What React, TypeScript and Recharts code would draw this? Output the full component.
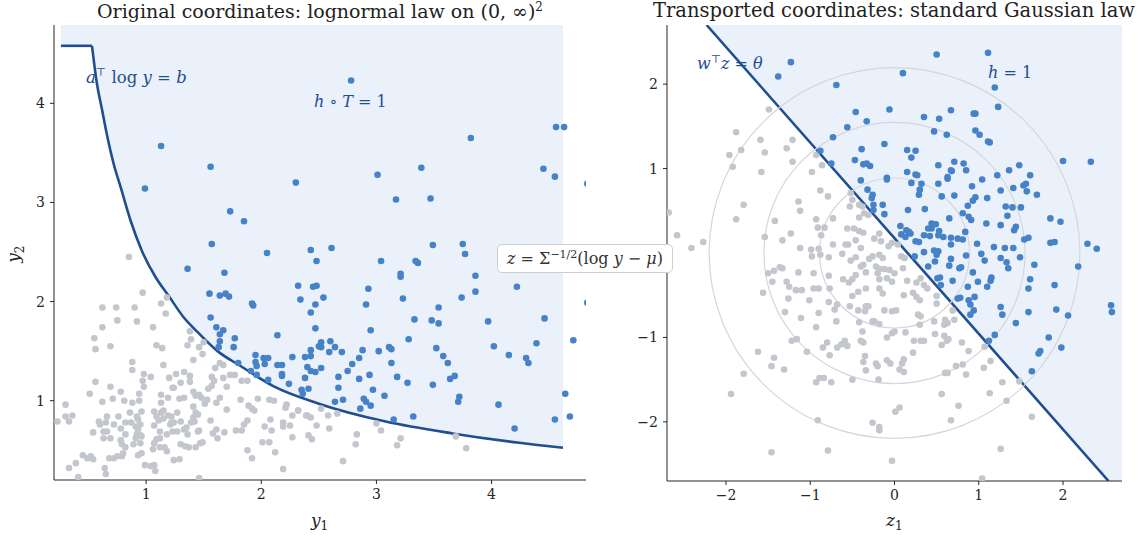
import React from 'react';
import { ComposedChart, Area, Line, Scatter, XAxis, YAxis } from 'recharts';

const INK = '#1f4e91';
const FILL = '#ebf1fa';
const BLUE = '#4682c8';
const GRAY = '#c3c6cd';
const RING = '#d5d6db';
const AXIS = '#262626';
const SERIF = '"DejaVu Serif", serif';

// ---- left panel: original coordinates (y1, y2) ----
const L_XDOM: [number, number] = [0.2, 4.82];
const L_YDOM: [number, number] = [0.2, 4.79];
const L_TICKS = [1, 2, 3, 4];

// boundary a^T log y = b (flat cap, then the curve)
const CURVE_Y1 = [0.26, 0.53, 0.57, 0.62, 0.66, 0.72, 0.78, 0.87, 0.96, 1.08, 1.2, 1.32, 1.44, 1.62, 1.82, 2.1, 2.5, 3.08, 3.66, 4.24, 4.62];
const CURVE_Y2 = [4.58, 4.58, 4.22, 3.92, 3.68, 3.38, 3.15, 2.8, 2.52, 2.25, 2.05, 1.85, 1.7, 1.5, 1.35, 1.15, 0.97, 0.79, 0.67, 0.575, 0.525];

const L_BLUE: [number, number][] = [
  [1.13, 3.57], [1.56, 3.36], [0.99, 3.14], [2.3, 3.2], [1.73, 2.91], [1.85, 2.81], [1.57, 2.58], [2.43, 2.52],
  [2.78, 4.23], [3.82, 3.65], [4.56, 3.76], [4.63, 3.76], [3.01, 3.28], [3.39, 3.35], [4.45, 3.34], [4.55, 3.26],
  [3.17, 3.03], [3.47, 3.04], [2.61, 2.54], [3.49, 2.57], [3.75, 2.58], [4.83, 3.19],
  [2.05, 2.49], [2.48, 2.41], [1.36, 2.33], [1.68, 2.29], [2.32, 2.16], [2.45, 2.15], [2.48, 2.16], [1.55, 2.08],
  [1.64, 2.06], [1.69, 2.08], [1.72, 2.05], [2.34, 2.02], [1.92, 1.98], [1.93, 1.96], [2.47, 1.97], [2.43, 1.89],
  [1.56, 1.84], [1.61, 1.74], [1.67, 1.71], [1.64, 1.67], [2.47, 1.73], [2.14, 1.66], [1.77, 1.63], [1.64, 1.6],
  [1.63, 1.54], [1.76, 1.54], [2.43, 1.51], [2.5, 1.55], [1.95, 1.46], [2.02, 1.43], [2.06, 1.43], [2.27, 1.44],
  [2.38, 1.44], [2.43, 1.45], [1.8, 1.38], [1.95, 1.39], [1.96, 1.35], [2.03, 1.37], [2.14, 1.36], [2.18, 1.36],
  [2.4, 1.34], [2.43, 1.3], [2.47, 1.29], [1.91, 1.3], [2.18, 1.27], [2.18, 1.25], [1.96, 1.26], [2.38, 1.23],
  [2.06, 1.21], [2.24, 1.17], [2.41, 1.12], [2.35, 1.11], [2.36, 1.07],
  [3.77, 2.48], [3.04, 2.41], [3.34, 2.41], [3.36, 2.39], [3.21, 2.28], [3.21, 2.25], [3.86, 2.26], [2.54, 2.04],
  [2.93, 2.13], [4.22, 2.15], [3.74, 2.04], [3.86, 2.1], [3.23, 2.03], [2.91, 1.97], [3.54, 1.94], [3.33, 1.82],
  [3.48, 1.81], [3.54, 1.78], [3.97, 1.8], [4.46, 1.83], [2.95, 1.71], [3.28, 1.62], [4.71, 1.61], [2.52, 1.59],
  [2.52, 1.54], [2.6, 1.6], [2.64, 1.54], [2.59, 1.49], [2.7, 1.49], [2.88, 1.51], [3.02, 1.5], [3.11, 1.54],
  [3.13, 1.52], [3.52, 1.53], [4.02, 1.55], [4.39, 1.58], [2.85, 1.43], [2.79, 1.37], [2.75, 1.3], [3.13, 1.38],
  [3.58, 1.45], [3.62, 1.38], [4.15, 1.46], [4.3, 1.43], [4.32, 1.38], [2.52, 1.33], [2.67, 1.24], [2.67, 1.13],
  [2.94, 1.26], [2.85, 1.22], [3.18, 1.24], [3.27, 1.18], [3.64, 1.22], [3.68, 1.25], [3.49, 1.16], [2.97, 1.11],
  [3.07, 1.05], [2.64, 0.99], [2.71, 1.01], [2.89, 1.02], [2.91, 0.99], [2.95, 0.95], [2.86, 0.92], [3.72, 1.04],
  [3.71, 0.99], [4.06, 0.96], [4.64, 1.07], [3.15, 0.81], [3.32, 0.84], [4.2, 0.72], [4.55, 0.81], [4.68, 0.84],
  [4.83, 1.99],
];

const L_GRAY: [number, number][] = [
  [0.85, 2.45], [0.97, 2.09], [0.62, 1.94], [0.74, 1.94], [0.9, 1.94], [0.75, 1.81], [0.92, 1.8], [0.62, 1.74],
  [1.13, 1.98], [1.17, 1.88], [1.18, 2.04], [1.06, 1.74], [0.55, 1.63], [0.56, 1.52], [0.69, 1.55], [1.09, 1.56],
  [1.14, 1.53], [1.38, 1.7], [1.39, 1.62], [1.36, 1.56], [1.46, 1.54], [1.5, 1.59], [1.49, 1.47], [1.41, 1.41],
  [0.88, 1.39], [0.88, 1.31], [1.15, 1.36], [0.98, 1.27], [1.04, 1.24], [1.26, 1.27], [1.33, 1.29], [1.38, 1.25],
  [1.6, 1.33], [1.64, 1.38], [1.67, 1.36], [0.97, 1.2], [0.98, 1.14], [0.56, 1.19], [1.2, 1.23], [1.3, 1.18],
  [1.38, 1.19], [1.57, 1.24], [1.59, 1.2], [1.57, 1.15], [1.67, 1.23], [1.73, 1.26], [1.77, 1.26], [1.83, 1.2],
  [1.88, 1.2], [1.7, 1.14], [0.69, 1.14], [0.51, 1.07], [0.78, 1.09], [0.94, 1.07], [0.94, 1.0], [1.13, 1.06],
  [1.13, 0.98], [1.19, 1.03], [1.23, 1.13], [1.24, 1.13], [1.29, 1.02], [1.33, 1.03], [1.41, 1.09], [1.43, 1.05],
  [1.46, 1.06], [1.48, 1.03], [1.53, 1.01], [1.51, 0.97], [1.54, 1.12], [1.61, 0.98], [1.64, 1.03], [1.7, 0.91],
  [1.82, 1.01], [1.89, 0.95], [1.92, 0.92], [1.94, 0.9], [1.97, 1.02], [2.07, 1.01], [2.11, 1.0], [2.22, 0.96],
  [2.21, 0.93], [2.32, 0.9], [2.4, 0.85], [2.48, 0.75], [0.3, 0.96], [0.3, 0.84], [0.33, 0.79], [0.36, 0.85],
  [0.23, 0.79], [0.62, 0.99], [0.71, 1.02], [0.81, 1.0], [0.88, 0.98], [0.86, 0.88], [0.96, 0.89], [0.59, 0.79],
  [0.66, 0.84], [0.65, 0.78], [0.6, 0.76], [0.76, 0.84], [0.72, 0.76], [0.78, 0.72], [0.82, 0.78], [0.87, 0.78],
  [0.91, 0.74], [0.54, 0.68], [0.63, 0.69], [0.66, 0.69], [0.82, 0.66], [0.93, 0.71], [0.92, 0.66], [0.96, 0.64],
  [0.63, 0.62], [0.69, 0.62], [0.78, 0.6], [0.79, 0.56], [0.82, 0.53], [1.07, 0.89], [1.07, 0.75], [1.13, 0.88],
  [1.15, 0.9], [1.19, 0.85], [1.21, 0.76], [1.24, 0.78], [1.27, 0.88], [1.33, 0.71], [1.36, 0.66], [1.42, 0.79],
  [1.45, 0.69], [1.46, 0.7], [1.41, 0.94], [1.43, 0.88], [1.45, 0.86], [1.56, 0.8], [1.58, 0.67], [1.61, 0.71],
  [1.62, 0.62], [1.68, 0.68], [1.78, 0.7], [1.83, 0.7], [1.85, 0.76], [1.88, 0.8], [1.07, 0.57], [1.09, 0.61],
  [1.12, 0.62], [1.12, 0.53], [1.06, 0.51], [1.16, 0.53], [1.18, 0.49], [1.3, 0.56], [1.34, 0.54], [1.37, 0.53],
  [1.43, 0.53], [1.47, 0.57], [1.49, 0.58], [1.24, 0.4], [1.29, 0.41], [0.99, 0.35], [1.04, 0.34], [1.07, 0.35],
  [1.08, 0.29], [0.93, 0.45], [0.96, 0.47], [0.68, 0.42], [0.72, 0.42], [0.75, 0.44], [0.79, 0.44], [0.8, 0.47],
  [0.45, 0.45], [0.49, 0.42], [0.52, 0.44], [0.54, 0.41], [0.39, 0.37], [0.33, 0.32], [0.41, 0.23], [0.64, 0.32],
  [0.65, 0.26], [1.46, 0.22], [1.88, 0.5], [1.92, 0.42], [2.01, 0.58], [2.07, 0.58], [2.12, 0.48], [2.19, 0.31],
  [2.03, 0.74], [2.09, 0.7], [2.08, 0.81], [2.19, 0.78], [2.19, 0.74], [2.25, 0.75], [2.27, 0.63], [2.27, 0.85],
  [2.32, 0.9], [2.39, 0.85], [2.41, 0.65], [2.44, 0.61], [2.43, 0.83], [1.15, 0.82], [1.22, 0.84], [1.09, 0.84],
  [1.11, 0.8], [0.92, 0.84], [0.95, 0.76], [0.93, 0.81], [1.41, 0.83], [1.3, 0.79], [1.35, 0.73], [1.39, 0.78],
  [1.27, 0.69], [1.23, 0.69], [0.95, 0.65], [0.91, 0.62], [0.95, 0.57], [0.89, 0.56], [1.12, 0.69], [1.18, 0.66],
  [1.22, 0.78], [2.52, 0.92], [2.58, 0.85], [2.66, 0.87], [2.59, 0.72], [2.83, 0.66], [2.82, 0.56], [3.0, 0.77],
  [3.04, 0.7], [3.21, 0.62], [3.18, 0.55], [2.71, 0.39], [3.69, 0.64], [3.78, 0.52],
];

// ---- right panel: transported coordinates (z1, z2) ----
const R_DOM: [number, number] = [-2.7, 2.7];
const R_TICKS = [-2, -1, 0, 1, 2];
const RING_RADII = [0.89, 1.55, 2.2];
// w^T z = theta, where it enters and leaves the plot
const LINE_Z1 = [-2.23, 2.54];
const LINE_Z2 = [2.7, -2.7];

const R_BLUE: [number, number][] = [
  [-1.23, 2.26], [-1.38, 2.09], [-0.69, 1.99], [-0.06, 1.7], [-0.46, 1.67], [-0.33, 1.56], [-0.56, 1.49], [-0.73, 1.37],
  [-0.12, 1.29], [-0.39, 1.23], [-0.88, 1.21], [-0.47, 1.1], [-0.37, 1.05], [-0.33, 1.06], [-0.29, 1.03], [-0.75, 1.06],
  [-0.09, 0.89], [-0.09, 0.87], [-0.4, 0.86], [-0.32, 0.75], [-0.26, 0.69], [-0.27, 0.65], [-0.25, 0.57], [-0.14, 0.57],
  [-0.12, 0.46], [-0.25, 0.51],
  [0.5, 2.35], [1.11, 2.37], [0.1, 2.13], [1.19, 1.96], [1.23, 1.73], [0.35, 1.61], [0.53, 1.59], [0.67, 1.69],
  [0.94, 1.65], [0.96, 1.65], [0.47, 1.44], [0.62, 1.4], [0.96, 1.45], [1.01, 1.4], [1.11, 1.32], [1.13, 1.31],
  [0.15, 1.22], [0.25, 1.21], [0.2, 1.13], [2.0, 1.09], [2.33, 1.08], [0.15, 0.96], [0.25, 0.93], [0.27, 0.92],
  [0.52, 1.04], [0.71, 1.08], [0.82, 1.06], [0.67, 0.98], [0.68, 0.97], [0.85, 0.98], [1.36, 0.98], [1.48, 1.04],
  [1.22, 0.92], [1.61, 0.92], [0.63, 0.9], [0.63, 0.88], [1.04, 0.87], [0.2, 0.83], [0.32, 0.82], [0.3, 0.75],
  [0.29, 0.69], [0.52, 0.82], [0.92, 0.79], [1.41, 0.77], [1.53, 0.8], [1.56, 0.82], [1.57, 0.73], [1.69, 0.69],
  [0.56, 0.67], [0.71, 0.68], [0.96, 0.66], [0.93, 0.62], [1.1, 0.65], [1.26, 0.74], [0.87, 0.56], [1.32, 0.55],
  [1.4, 0.54], [1.5, 0.54], [0.16, 0.51], [0.36, 0.52], [0.81, 0.47], [0.88, 0.43], [0.91, 0.39], [0.65, 0.41],
  [1.34, 0.44], [1.44, 0.31], [1.42, 0.27], [1.09, 0.35], [1.26, 0.33], [1.85, 0.41], [1.97, 0.37], [0.07, 0.32],
  [0.14, 0.27], [0.17, 0.25], [0.44, 0.35], [0.49, 0.34], [0.4, 0.29], [0.44, 0.29], [0.53, 0.26], [0.35, 0.21],
  [0.42, 0.2], [0.52, 0.21], [0.58, 0.19], [0.84, 0.25], [0.67, 0.18], [0.75, 0.17], [0.81, 0.16], [0.25, 0.14],
  [0.29, 0.13], [0.08, 0.22], [0.13, 0.19], [0.19, 0.23], [1.54, 0.16], [1.59, 0.18], [1.85, 0.12], [1.9, 0.13],
  [2.29, 0.11], [2.4, 0.05], [0.67, 0.1], [1.18, 0.07], [1.31, 0.06], [1.41, 0.06], [0.98, 0.11], [0.47, 0.03],
  [0.52, 0.02], [0.35, 0.01],
  [0.24, -0.04], [0.5, -0.02], [0.67, -0.07], [0.85, -0.03], [1.03, -0.01], [0.4, -0.16], [0.48, -0.1], [0.65, -0.15],
  [0.77, -0.18], [0.79, -0.17], [0.93, -0.23], [1.07, -0.09], [1.26, -0.06], [1.33, -0.11], [1.35, -0.18], [1.49, -0.05],
  [1.66, -0.14], [2.18, -0.16], [0.51, -0.3], [0.54, -0.29], [0.69, -0.33], [0.87, -0.4], [0.99, -0.34], [1.1, -0.4],
  [1.14, -0.33], [1.15, -0.29], [1.61, -0.31], [1.59, -0.42], [1.9, -0.38], [0.55, -0.38], [0.75, -0.54], [0.78, -0.53],
  [0.88, -0.56], [0.95, -0.52], [0.9, -0.61], [0.94, -0.68], [0.9, -0.73], [1.26, -0.64], [1.28, -0.73], [1.59, -0.7],
  [1.92, -0.67], [2.06, -0.74], [2.57, -0.62], [2.58, -0.7], [1.44, -0.83], [1.19, -0.97], [1.12, -1.04], [1.83, -1.0],
  [1.98, -1.12], [1.71, -1.19], [1.73, -1.16], [1.63, -1.4],
];

const R_GRAY: [number, number][] = [
  [-1.49, 1.7], [-1.88, 1.43], [-1.59, 1.34], [-1.21, 1.34], [-1.82, 1.22], [-1.54, 1.19], [-1.28, 1.24], [-1.96, 1.16],
  [-1.92, 1.02], [-1.21, 1.08], [-1.58, 0.96], [-0.93, 1.16], [-0.86, 1.04], [-0.98, 0.96], [-0.88, 0.74], [-0.79, 0.67],
  [-1.14, 0.61], [-1.12, 0.5], [-1.79, 0.57], [-1.88, 0.4], [-2.68, 0.48], [-2.58, 0.21], [-2.41, 0.06], [-2.27, 0.13],
  [-1.42, 0.38], [-1.54, 0.19], [-1.33, 0.15], [-1.23, 0.23], [-1.12, 0.06], [-0.93, 0.4], [-0.91, 0.3], [-0.87, 0.21],
  [-0.83, 0.3], [-0.73, 0.41], [-0.52, 0.71], [-0.5, 0.63], [-0.53, 0.55], [-0.42, 0.57], [-0.38, 0.55], [-0.42, 0.42],
  [-0.36, 0.47], [-0.31, 0.45], [-0.56, 0.29], [-0.48, 0.29], [-0.42, 0.26], [-0.37, 0.24], [-0.46, 0.15], [-0.55, 0.1],
  [-0.4, 0.06], [-0.24, 0.17], [-0.18, 0.23], [-0.16, 0.14], [-0.07, 0.08], [-0.03, 0.12], [-0.73, 0.1], [-0.58, 0.1],
  [-0.9, 0.05], [-0.99, 0.04], [0.04, 0.1],
  [-0.98, -0.04], [-0.88, -0.02], [-0.78, -0.05], [-0.62, -0.01], [-0.52, -0.09], [-0.46, -0.05], [-0.3, -0.07], [-0.26, -0.04],
  [-0.18, -0.02], [-0.14, -0.06], [-0.4, -0.16], [-0.37, -0.14], [-0.22, -0.16], [-0.18, -0.19], [-0.12, -0.19], [-0.06, -0.2],
  [-1.5, -0.24], [-1.43, -0.21], [-1.36, -0.17], [-1.33, -0.18], [-1.45, -0.34], [-1.14, -0.23], [-0.96, -0.24], [-0.78, -0.27],
  [-1.28, -0.34], [-1.25, -0.4], [-1.17, -0.44], [-1.1, -0.44], [-0.96, -0.42], [-0.9, -0.42], [-0.77, -0.42], [-0.61, -0.31],
  [-0.54, -0.35], [-0.5, -0.31], [-0.46, -0.26], [-0.34, -0.23], [-0.2, -0.24], [-0.18, -0.31], [-0.09, -0.3], [-0.03, -0.34],
  [-1.56, -0.47], [-1.26, -0.54], [-1.01, -0.56], [-0.78, -0.58], [-0.68, -0.61], [-0.5, -0.51], [-0.43, -0.46], [-0.34, -0.42],
  [-0.18, -0.42], [-0.14, -0.48], [-1.3, -0.7], [-1.11, -0.77], [-0.9, -0.71], [-0.93, -0.88], [-0.71, -0.67], [-0.69, -0.81],
  [-0.53, -0.63], [-0.43, -0.68], [-0.34, -0.63], [-0.31, -0.63], [-0.35, -0.69], [-0.26, -0.81], [-0.18, -0.84], [-0.12, -0.68],
  [-0.03, -0.69], [-0.42, -0.82], [-0.38, -0.93], [-0.24, -0.81], [-0.09, -1.0], [-0.03, -0.95], [-1.22, -1.04], [-1.16, -1.02],
  [-1.04, -1.17], [-0.85, -1.12], [-0.8, -1.06], [-0.77, -1.21], [-0.68, -1.12], [-0.63, -1.08], [-0.59, -1.04], [-0.56, -1.1],
  [-0.4, -1.04], [-0.37, -1.06], [-0.35, -1.22], [-0.37, -1.29], [-0.34, -1.39], [-0.22, -1.31], [-0.2, -1.34], [-0.09, -1.27],
  [-0.05, -1.31], [-0.19, -1.5], [-1.62, -1.17], [-1.43, -1.24], [-1.46, -1.34], [-1.31, -1.38], [-1.79, -1.43], [-1.94, -1.67],
  [-0.93, -1.53], [-0.89, -1.48], [-0.84, -1.48], [-0.75, -1.53], [-0.5, -1.5], [-0.91, -1.98], [-0.26, -2.01], [-0.18, -2.06],
  [-0.18, -2.1], [-1.46, -2.36], [-0.79, -2.34], [-0.03, -2.46], [0.01, -1.88],
  [0.08, -0.04], [0.12, -0.06], [0.0, -0.24], [0.1, -0.18], [0.15, -0.33], [0.26, -0.35], [0.31, -0.3], [0.35, -0.38],
  [0.39, -0.42], [0.11, -0.5], [0.22, -0.47], [0.26, -0.52], [0.3, -0.56], [0.5, -0.51], [0.5, -0.6], [0.02, -0.68],
  [0.28, -0.73], [0.31, -0.75], [0.3, -0.85], [0.47, -0.81], [0.6, -0.79], [0.59, -0.85], [0.63, -0.83], [0.69, -0.68],
  [0.71, -0.79], [0.0, -0.93], [0.13, -0.94], [0.23, -1.04], [0.31, -1.04], [0.35, -1.04], [0.48, -0.96], [0.59, -0.98],
  [0.62, -1.04], [0.64, -1.02], [0.56, -1.09], [0.8, -1.06], [0.88, -1.16], [1.07, -1.11], [0.22, -1.18], [0.11, -1.26],
  [0.09, -1.31], [0.06, -1.38], [0.11, -1.41], [0.6, -1.42], [0.63, -1.42], [0.73, -1.34], [0.81, -1.32], [0.85, -1.44],
  [1.06, -1.36], [1.14, -1.28], [1.28, -1.53], [1.48, -1.52], [0.56, -1.67], [0.76, -1.81], [0.67, -1.98], [1.13, -1.66],
  [1.33, -1.75], [1.63, -1.94], [1.26, -2.32], [1.04, -2.67], [0.06, -1.83],
];

// ---- layout ----
const L_W = 600, R_W = 548, H = 539;
const L_MARGIN = { top: 25, right: 14, bottom: 29, left: 14 };
const R_MARGIN = { top: 25, right: 26, bottom: 28, left: 27 };
const Y_AXIS_W = 40;
const R_PLOT_W = R_W - R_MARGIN.left - R_MARGIN.right - Y_AXIS_W;
const R_PX_PER_UNIT = R_PLOT_W / (R_DOM[1] - R_DOM[0]);

const toXY = (pts: [number, number][]) => pts.map(([x, y]) => ({ x, y }));
const fmt = (v: number) => (v < 0 ? `\u2212${-v}` : `${v}`);
// the 0 label on the right y axis sits under the transport box in the original
const fmtRightY = (v: number) => (v === 0 ? '' : fmt(v));
const dot = (color: string) => (p: any) => <circle cx={p.cx} cy={p.cy} r={3.3} fill={color} />;

const tickStyle = { fontSize: 14, fill: AXIS, fontFamily: SERIF };

const leftFill = CURVE_Y1.map((x, i) => ({ x, band: [CURVE_Y2[i], L_YDOM[1]] }));
const leftFlat = CURVE_Y1.slice(0, 2).map((x, i) => ({ x, y: CURVE_Y2[i] }));
const leftCurve = CURVE_Y1.slice(1).map((x, i) => ({ x, y: CURVE_Y2[i + 1] }));

const rightLine = LINE_Z1.map((x, i) => ({ x, y: LINE_Z2[i] }));
const rightFill = [
  { x: LINE_Z1[0], band: [LINE_Z2[0], R_DOM[1]] },
  { x: LINE_Z1[1], band: [LINE_Z2[1], R_DOM[1]] },
  { x: R_DOM[1], band: [R_DOM[0], R_DOM[1]] },
];
const rings = RING_RADII.map(r => ({ x: 0, y: 0, r }));

function Note({ left, top, size = 16, color = INK, children }: any) {
  return (
    <div style={{ position: 'absolute', left, top, fontFamily: SERIF, fontSize: size, color, lineHeight: 1, whiteSpace: 'nowrap' }}>
      {children}
    </div>
  );
}

const titleStyle: React.CSSProperties = {
  position: 'absolute', top: 1, textAlign: 'center', fontFamily: SERIF, fontSize: 19,
  color: '#222', lineHeight: 1, whiteSpace: 'nowrap',
};

export default function App() {
  return (
    <div style={{ position: 'absolute', left: 0, top: 0, width: 1148, height: H, background: '#fff', overflow: 'hidden' }}>
      <div style={{ position: 'absolute', left: 0, top: 0 }}>
        <ComposedChart width={L_W} height={H} data={leftFill} margin={L_MARGIN}>
          <XAxis
            type="number" dataKey="x" domain={L_XDOM} allowDataOverflow ticks={L_TICKS}
            tick={tickStyle} tickSize={4} tickMargin={5} height={30}
            axisLine={{ stroke: AXIS }} tickLine={{ stroke: AXIS }}
          />
          <YAxis
            type="number" domain={L_YDOM} allowDataOverflow ticks={L_TICKS}
            tick={tickStyle} tickSize={4} tickMargin={5} width={Y_AXIS_W}
            axisLine={{ stroke: AXIS }} tickLine={{ stroke: AXIS }}
          />
          <Area type="linear" dataKey="band" fill={FILL} fillOpacity={1} stroke="none" isAnimationActive={false} />
          <Scatter data={toXY(L_GRAY)} dataKey="y" shape={dot(GRAY)} isAnimationActive={false} />
          <Scatter data={toXY(L_BLUE)} dataKey="y" shape={dot(BLUE)} isAnimationActive={false} />
          <Line data={leftFlat} type="linear" dataKey="y" stroke={INK} strokeWidth={2.6} dot={false} isAnimationActive={false} />
          <Line data={leftCurve} type="monotone" dataKey="y" stroke={INK} strokeWidth={2.6} dot={false} isAnimationActive={false} />
        </ComposedChart>
      </div>

      <div style={{ position: 'absolute', left: L_W, top: 0 }}>
        <ComposedChart width={R_W} height={H} data={rightFill} margin={R_MARGIN}>
          <XAxis
            type="number" dataKey="x" domain={R_DOM} allowDataOverflow ticks={R_TICKS} tickFormatter={fmt}
            tick={tickStyle} tickSize={4} tickMargin={5} height={30}
            axisLine={{ stroke: AXIS }} tickLine={{ stroke: AXIS }}
          />
          <YAxis
            type="number" domain={R_DOM} allowDataOverflow ticks={R_TICKS} tickFormatter={fmtRightY}
            tick={tickStyle} tickSize={4} tickMargin={5} width={Y_AXIS_W}
            axisLine={{ stroke: AXIS }} tickLine={{ stroke: AXIS }}
          />
          <Area type="linear" dataKey="band" fill={FILL} fillOpacity={1} stroke="none" isAnimationActive={false} />
          <Scatter
            data={rings} dataKey="y" isAnimationActive={false}
            shape={(p: any) => (
              <circle cx={p.cx} cy={p.cy} r={p.payload.r * R_PX_PER_UNIT} fill="none" stroke={RING} strokeWidth={1.2} />
            )}
          />
          <Scatter data={toXY(R_GRAY)} dataKey="y" shape={dot(GRAY)} isAnimationActive={false} />
          <Scatter data={toXY(R_BLUE)} dataKey="y" shape={dot(BLUE)} isAnimationActive={false} />
          <Line data={rightLine} type="linear" dataKey="y" stroke={INK} strokeWidth={2.6} dot={false} isAnimationActive={false} />
        </ComposedChart>
      </div>

      {/* titles */}
      <div style={{ ...titleStyle, left: 20, width: 600 }}>
        Original coordinates: lognormal law on (0, ∞)<sup style={{ fontSize: 12 }}>2</sup>
      </div>
      <div style={{ ...titleStyle, left: 644, width: 500, fontSize: 19.5 }}>
        Transported coordinates: standard Gaussian law
      </div>

      {/* axis labels */}
      <Note left={311} top={512} size={17} color="#222"><i>y</i><sub style={{ fontSize: 12 }}>1</sub></Note>
      <Note left={886} top={512} size={17} color="#222"><i>z</i><sub style={{ fontSize: 12 }}>1</sub></Note>
      <div style={{ position: 'absolute', left: 7, top: 244, transform: 'rotate(-90deg)', fontFamily: SERIF, fontSize: 17, color: '#222', lineHeight: 1 }}>
        <i>y</i><sub style={{ fontSize: 12 }}>2</sub>
      </div>

      {/* annotations */}
      <Note left={86} top={67} size={16.5}><i>a</i><sup style={{ fontSize: 11 }}>⊤</sup> log <i>y</i> = <i>b</i></Note>
      <Note left={314} top={94}><i>h</i> ∘ <i>T</i> = 1</Note>
      <Note left={697} top={54}><i>w</i><sup style={{ fontSize: 11 }}>⊤</sup><i>z</i> = <i>θ</i></Note>
      <Note left={988} top={65}><i>h</i> = 1</Note>

      <div style={{
        position: 'absolute', left: 497, top: 244, width: 176, height: 29, boxSizing: 'border-box',
        border: '1px solid #cfcfcf', borderRadius: 5, background: '#fff', display: 'flex', alignItems: 'center',
        justifyContent: 'center', fontFamily: SERIF, fontSize: 16, color: '#333', whiteSpace: 'nowrap',
      }}>
        <span><i>z</i> = Σ<sup style={{ fontSize: 11 }}>−1/2</sup>(log <i>y</i> − <i>μ</i>)</span>
      </div>
    </div>
  );
}
